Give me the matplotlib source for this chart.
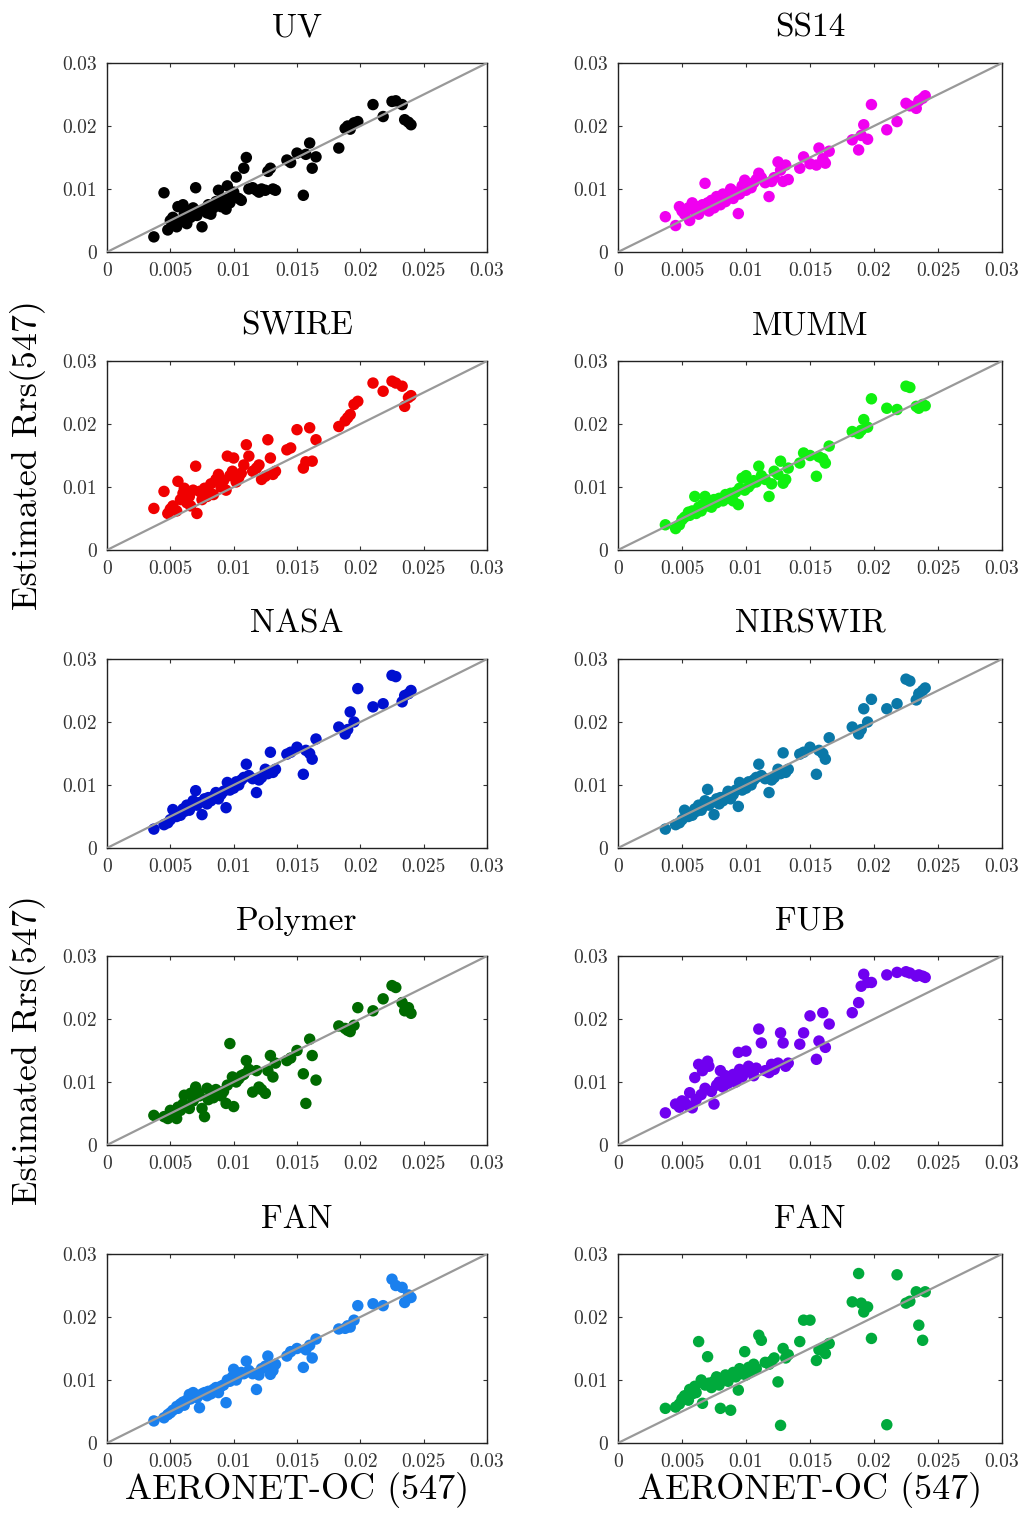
import matplotlib
matplotlib.use("Agg")
import matplotlib.pyplot as plt

plt.rcParams["font.family"] = "cmr10"
plt.rcParams["mathtext.fontset"] = "cm"
plt.rcParams["axes.formatter.use_mathtext"] = True

# AERONET-OC reference Rrs(547), shared by every panel
aeronet = [
    0.0037, 0.0045, 0.0048, 0.0050, 0.0052, 0.0055, 0.0056, 0.0058, 0.0060, 0.0061,
    0.0063, 0.0065, 0.0066, 0.0068, 0.0070, 0.0071, 0.0073, 0.0075, 0.0077, 0.0079,
    0.0080, 0.0082, 0.0084, 0.0086, 0.0088, 0.0090, 0.0092, 0.0094, 0.0095, 0.0097,
    0.0099, 0.0100, 0.0102, 0.0104, 0.0106, 0.0108, 0.0110, 0.0112, 0.0115, 0.0118,
    0.0120, 0.0122, 0.0125, 0.0127, 0.0129, 0.0131, 0.0133, 0.0142, 0.0145, 0.0150,
    0.0155, 0.0157, 0.0160, 0.0162, 0.0165, 0.0183, 0.0188, 0.0190, 0.0192, 0.0195,
    0.0198, 0.0210, 0.0218, 0.0225, 0.0228, 0.0233, 0.0235, 0.0238, 0.0240,
]

uv = [
    0.0024, 0.0094, 0.0035, 0.0050, 0.0055, 0.0040, 0.0072, 0.0048, 0.0075, 0.0060,
    0.0045, 0.0065, 0.0055, 0.0070, 0.0102, 0.0058, 0.0065, 0.0040, 0.0068, 0.0062,
    0.0075, 0.0060, 0.0070, 0.0080, 0.0098, 0.0072, 0.0085, 0.0068, 0.0105, 0.0078,
    0.0090, 0.0095, 0.0119, 0.0085, 0.0082, 0.0133, 0.0150, 0.0100, 0.0102, 0.0098,
    0.0095, 0.0100, 0.0098, 0.0128, 0.0133, 0.0100, 0.0098, 0.0146, 0.0142, 0.0157,
    0.0090, 0.0155, 0.0173, 0.0133, 0.0151, 0.0165, 0.0196, 0.0200, 0.0195, 0.0205,
    0.0207, 0.0234, 0.0215, 0.0239, 0.0240, 0.0234, 0.0210, 0.0206, 0.0202,
]
ss14 = [
    0.0056, 0.0042, 0.0072, 0.0065, 0.0060, 0.0070, 0.0050, 0.0078, 0.0065, 0.0072,
    0.0060, 0.0068, 0.0075, 0.0109, 0.0078, 0.0065, 0.0082, 0.0070, 0.0088, 0.0085,
    0.0075, 0.0092, 0.0080, 0.0088, 0.0100, 0.0085, 0.0095, 0.0061, 0.0092, 0.0105,
    0.0114, 0.0098, 0.0108, 0.0102, 0.0110, 0.0115, 0.0125, 0.0118, 0.0110, 0.0088,
    0.0112, 0.0118, 0.0143, 0.0130, 0.0112, 0.0138, 0.0115, 0.0133, 0.0151, 0.0140,
    0.0138, 0.0165, 0.0148, 0.0141, 0.0160, 0.0178, 0.0162, 0.0185, 0.0202, 0.0179,
    0.0234, 0.0194, 0.0207, 0.0236, 0.0232, 0.0228, 0.0240, 0.0244, 0.0248,
]
swire = [
    0.0066, 0.0093, 0.0058, 0.0065, 0.0070, 0.0062, 0.0109, 0.0080, 0.0090, 0.0098,
    0.0075, 0.0085, 0.0070, 0.0095, 0.0133, 0.0058, 0.0093, 0.0080, 0.0098, 0.0085,
    0.0092, 0.0105, 0.0088, 0.0112, 0.0120, 0.0100, 0.0110, 0.0095, 0.0149, 0.0118,
    0.0125, 0.0146, 0.0108, 0.0115, 0.0122, 0.0135, 0.0167, 0.0149, 0.0125, 0.0130,
    0.0135, 0.0112, 0.0117, 0.0175, 0.0146, 0.0120, 0.0125, 0.0159, 0.0162, 0.0191,
    0.0130, 0.0140, 0.0194, 0.0141, 0.0175, 0.0196, 0.0205, 0.0210, 0.0215, 0.0231,
    0.0236, 0.0265, 0.0252, 0.0268, 0.0265, 0.0260, 0.0228, 0.0242, 0.0245,
]
mumm = [
    0.0040, 0.0034, 0.0040, 0.0048, 0.0052, 0.0060, 0.0055, 0.0062, 0.0085, 0.0058,
    0.0068, 0.0062, 0.0072, 0.0085, 0.0070, 0.0078, 0.0068, 0.0080, 0.0075, 0.0082,
    0.0080, 0.0078, 0.0088, 0.0082, 0.0090, 0.0078, 0.0092, 0.0072, 0.0098, 0.0114,
    0.0095, 0.0118, 0.0100, 0.0105, 0.0110, 0.0108, 0.0133, 0.0118, 0.0112, 0.0085,
    0.0105, 0.0125, 0.0120, 0.0141, 0.0106, 0.0112, 0.0130, 0.0138, 0.0154, 0.0150,
    0.0117, 0.0148, 0.0145, 0.0138, 0.0165, 0.0188, 0.0185, 0.0190, 0.0207, 0.0195,
    0.0240, 0.0225, 0.0223, 0.0260, 0.0258, 0.0228, 0.0225, 0.0231, 0.0229,
]
nasa = [
    0.0030, 0.0037, 0.0040, 0.0045, 0.0061, 0.0050, 0.0055, 0.0052, 0.0062, 0.0058,
    0.0068, 0.0060, 0.0065, 0.0075, 0.0091, 0.0068, 0.0072, 0.0053, 0.0078, 0.0070,
    0.0080, 0.0075, 0.0082, 0.0088, 0.0078, 0.0085, 0.0090, 0.0064, 0.0104, 0.0092,
    0.0098, 0.0095, 0.0105, 0.0100, 0.0108, 0.0112, 0.0133, 0.0115, 0.0110, 0.0088,
    0.0108, 0.0112, 0.0125, 0.0118, 0.0152, 0.0120, 0.0125, 0.0149, 0.0152, 0.0160,
    0.0117, 0.0155, 0.0150, 0.0141, 0.0173, 0.0192, 0.0181, 0.0188, 0.0216, 0.0200,
    0.0253, 0.0224, 0.0229, 0.0274, 0.0272, 0.0232, 0.0242, 0.0245, 0.0250,
]
nirswir = [
    0.0030, 0.0037, 0.0040, 0.0045, 0.0060, 0.0050, 0.0055, 0.0052, 0.0062, 0.0058,
    0.0068, 0.0060, 0.0065, 0.0075, 0.0093, 0.0068, 0.0072, 0.0053, 0.0078, 0.0070,
    0.0080, 0.0075, 0.0082, 0.0090, 0.0078, 0.0085, 0.0092, 0.0066, 0.0104, 0.0092,
    0.0100, 0.0095, 0.0105, 0.0100, 0.0108, 0.0112, 0.0133, 0.0115, 0.0110, 0.0088,
    0.0108, 0.0112, 0.0125, 0.0118, 0.0151, 0.0120, 0.0125, 0.0149, 0.0152, 0.0160,
    0.0117, 0.0155, 0.0150, 0.0141, 0.0175, 0.0192, 0.0181, 0.0188, 0.0221, 0.0200,
    0.0236, 0.0221, 0.0229, 0.0268, 0.0265, 0.0235, 0.0245, 0.0250, 0.0254,
]
polymer = [
    0.0047, 0.0045, 0.0042, 0.0055, 0.0050, 0.0042, 0.0060, 0.0055, 0.0065, 0.0079,
    0.0062, 0.0058, 0.0082, 0.0070, 0.0092, 0.0085, 0.0078, 0.0058, 0.0045, 0.0090,
    0.0072, 0.0080, 0.0075, 0.0088, 0.0082, 0.0078, 0.0085, 0.0066, 0.0095, 0.0161,
    0.0108, 0.0061, 0.0100, 0.0105, 0.0110, 0.0112, 0.0134, 0.0120, 0.0084, 0.0118,
    0.0092, 0.0088, 0.0082, 0.0118, 0.0142, 0.0108, 0.0130, 0.0134, 0.0138, 0.0150,
    0.0113, 0.0066, 0.0168, 0.0142, 0.0103, 0.0189, 0.0185, 0.0182, 0.0180, 0.0190,
    0.0218, 0.0213, 0.0232, 0.0253, 0.0250, 0.0226, 0.0213, 0.0218, 0.0209,
]
fub = [
    0.0051, 0.0065, 0.0060, 0.0070, 0.0068, 0.0062, 0.0083, 0.0059, 0.0107, 0.0072,
    0.0128, 0.0080, 0.0118, 0.0090, 0.0133, 0.0125, 0.0085, 0.0065, 0.0095, 0.0100,
    0.0118, 0.0092, 0.0110, 0.0098, 0.0105, 0.0112, 0.0100, 0.0147, 0.0120, 0.0108,
    0.0115, 0.0149, 0.0125, 0.0118, 0.0110, 0.0122, 0.0184, 0.0162, 0.0118, 0.0115,
    0.0128, 0.0120, 0.0130, 0.0178, 0.0162, 0.0125, 0.0130, 0.0160, 0.0178, 0.0205,
    0.0136, 0.0165, 0.0210, 0.0155, 0.0192, 0.0210, 0.0226, 0.0252, 0.0271, 0.0258,
    0.0258, 0.0270, 0.0274, 0.0275, 0.0273, 0.0268, 0.0270, 0.0268, 0.0266,
]
fan_a = [
    0.0035, 0.0040, 0.0045, 0.0048, 0.0052, 0.0058, 0.0055, 0.0062, 0.0065, 0.0060,
    0.0068, 0.0077, 0.0070, 0.0080, 0.0075, 0.0072, 0.0056, 0.0078, 0.0080, 0.0075,
    0.0082, 0.0078, 0.0085, 0.0088, 0.0080, 0.0090, 0.0092, 0.0064, 0.0100, 0.0098,
    0.0105, 0.0117, 0.0100, 0.0108, 0.0112, 0.0110, 0.0130, 0.0115, 0.0110, 0.0085,
    0.0108, 0.0118, 0.0122, 0.0138, 0.0109, 0.0115, 0.0125, 0.0138, 0.0145, 0.0150,
    0.0120, 0.0148, 0.0155, 0.0135, 0.0165, 0.0181, 0.0182, 0.0186, 0.0184, 0.0195,
    0.0218, 0.0221, 0.0218, 0.0260, 0.0250, 0.0247, 0.0223, 0.0235, 0.0231,
]
fan_b = [
    0.0055, 0.0057, 0.0062, 0.0070, 0.0075, 0.0068, 0.0085, 0.0078, 0.0090, 0.0080,
    0.0161, 0.0100, 0.0063, 0.0092, 0.0137, 0.0095, 0.0088, 0.0098, 0.0105, 0.0092,
    0.0055, 0.0100, 0.0108, 0.0098, 0.0052, 0.0112, 0.0105, 0.0084, 0.0118, 0.0110,
    0.0145, 0.0108, 0.0120, 0.0115, 0.0125, 0.0118, 0.0171, 0.0163, 0.0128, 0.0125,
    0.0130, 0.0135, 0.0097, 0.0028, 0.0150, 0.0135, 0.0140, 0.0161, 0.0195, 0.0195,
    0.0131, 0.0148, 0.0150, 0.0142, 0.0158, 0.0224, 0.0269, 0.0222, 0.0208, 0.0216,
    0.0166, 0.0029, 0.0267, 0.0222, 0.0225, 0.0240, 0.0187, 0.0163, 0.0240,
]

titles = ["UV", "SS14", "SWIRE", "MUMM", "NASA", "NIRSWIR", "Polymer", "FUB", "FAN", "FAN"]
series = [uv, ss14, swire, mumm, nasa, nirswir, polymer, fub, fan_a, fan_b]
colors = ["#000000", "#f000f0", "#f00000", "#10f010", "#0010d0",
          "#0a78a8", "#006a00", "#7000f0", "#1a80ee", "#00aa3c"]

xticks = [0, 0.005, 0.01, 0.015, 0.02, 0.025, 0.03]
xticklabels = ["0", "0.005", "0.01", "0.015", "0.02", "0.025", "0.03"]
yticks = [0, 0.01, 0.02, 0.03]
yticklabels = ["0", "0.01", "0.02", "0.03"]

W, H = 1026, 1517
fig = plt.figure(figsize=(W / 100, H / 100), dpi=100)

col_left = [107, 618]
col_width = [380, 384]
row_top = [63, 361, 659, 956, 1254]
row_h = 189

for i, (title, yv, c) in enumerate(zip(titles, series, colors)):
    r, k = divmod(i, 2)
    ax = fig.add_axes([col_left[k] / W, 1 - (row_top[r] + row_h) / H,
                       col_width[k] / W, row_h / H])
    ax.scatter(aeronet, yv, s=68, c=c, marker="o", edgecolors="none", zorder=2)
    ax.plot([0, 0.03], [0, 0.03], color="#999999", lw=1.6, zorder=3)
    ax.set_xlim(0, 0.03)
    ax.set_ylim(0, 0.03)
    ax.set_xticks(xticks)
    ax.set_xticklabels(xticklabels)
    ax.set_yticks(yticks)
    ax.set_yticklabels(yticklabels)
    ax.tick_params(direction="in", length=3, width=0.8, labelsize=14,
                   top=True, right=True, pad=7, colors="#333333")
    for s in ax.spines.values():
        s.set_linewidth(1.0)
        s.set_color("#222222")
    ax.set_title(title, fontsize=24, pad=19)

# shared axis labels
for r in (1, 3):
    yc = 1 - (row_top[r] + row_h / 2) / H
    fig.text(28 / W, yc, "Estimated Rrs(547)", rotation=90, ha="center",
             va="center", fontsize=26)
for k in range(2):
    xc = (col_left[k] + col_width[k] / 2) / W
    fig.text(xc, 1 - 1490 / H, "AERONET-OC (547)", ha="center", va="center",
             fontsize=26)

fig.savefig("out.png", dpi=100)
